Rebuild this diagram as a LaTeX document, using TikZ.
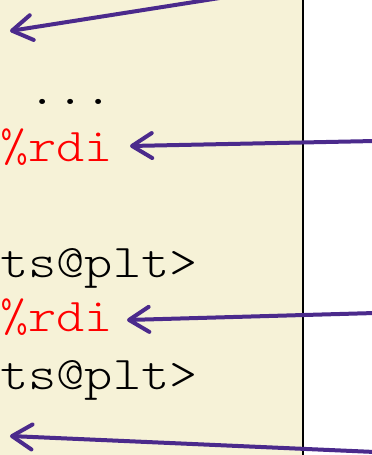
\documentclass[tikz,border=0pt]{standalone}
\usepackage{fontspec}
\setmonofont[FakeStretch=1.143]{Latin Modern Mono Light}
\usetikzlibrary{arrows.meta}
\definecolor{paper}{RGB}{246,242,215}
\definecolor{arrowpurple}{RGB}{75,42,140}
\definecolor{regred}{RGB}{255,0,0}
\tikzset{
  code/.style={anchor=base west, inner sep=0pt, font=\fontsize{47}{56}\selectfont\ttfamily},
  reg/.style={code, text=regred},
  pointer/.style={draw=arrowpurple, line width=4pt, line cap=round,
    -{Straight Barb[length=20pt,width=25pt,line width=4pt,round]}}
}
\begin{document}
\begin{tikzpicture}[x=1pt,y=-1pt]
\useasboundingbox (0,0) rectangle (372,455);
\clip (0,0) rectangle (372,455);
\fill[paper] (0,0) rectangle (303,455);
\fill[white] (303,0) rectangle (372,455);
\draw[line width=2.2pt] (303,-2) -- (303,457);
\node[code] (dots) at (0,104) {\ ...};
\node[reg] (rdiA) at (0,161) {\%rdi};
\node[code] (pltA) at (0,277) {ts@plt>};
\node[reg] (rdiB) at (0,331) {\%rdi};
\node[code] (pltB) at (0,389) {ts@plt>};
\coordinate (s1) at (372,-26);
\coordinate (t1) at (10,31);
\coordinate (s2) at (375,141);
\coordinate (t2) at (130,146);
\coordinate (s3) at (375,313);
\coordinate (t3) at (127,320);
\coordinate (s4) at (375,452);
\coordinate (t4) at (10,436);
\draw[pointer] (s1) -- (t1);
\draw[pointer] (s2) -- (t2);
\draw[pointer] (s3) -- (t3);
\draw[pointer] (s4) -- (t4);
\end{tikzpicture}
\end{document}
